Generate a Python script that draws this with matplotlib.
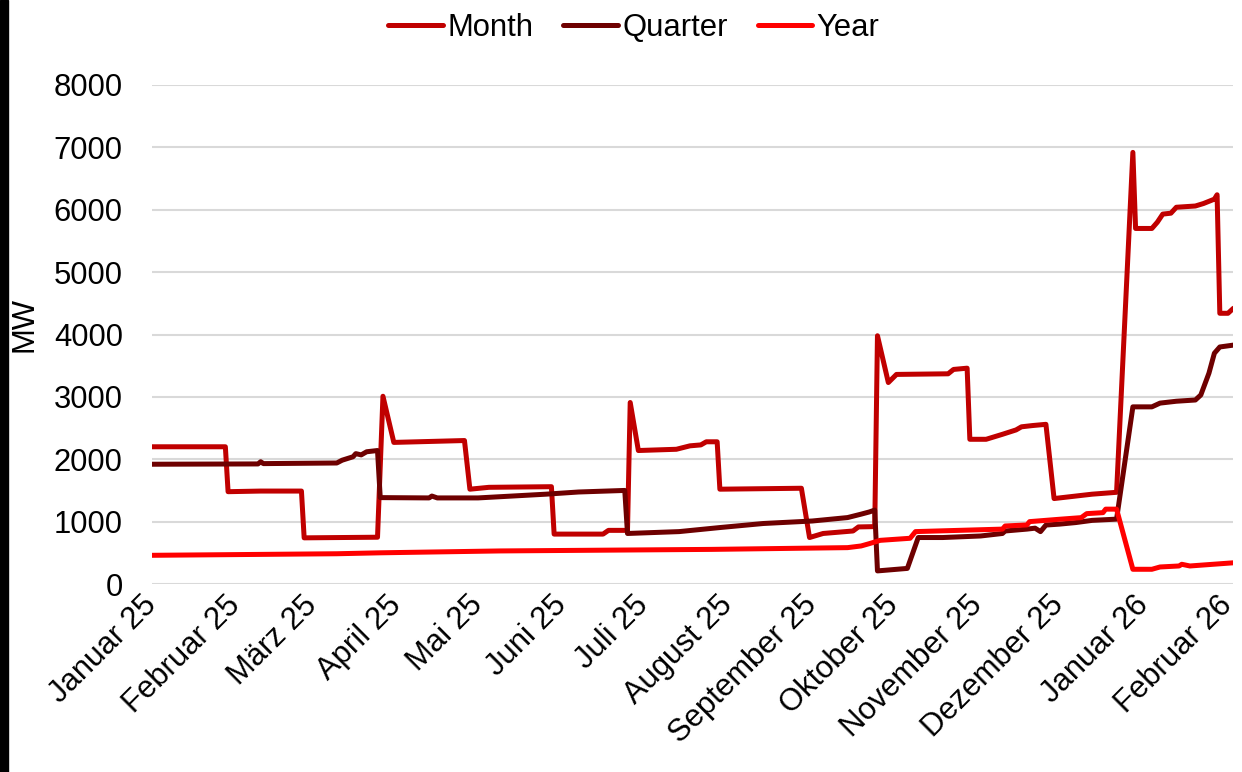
import matplotlib
matplotlib.use("Agg")
import matplotlib.pyplot as plt
from matplotlib.patches import Rectangle
import pandas as pd

plt.rcParams['font.family'] = ['Liberation Sans', 'DejaVu Sans']

# ---------------- data (breakpoints) ----------------
month_dates = ["2025-01-01", "2025-01-28", "2025-01-29", "2025-02-10", "2025-02-25", "2025-02-26",
               "2025-03-25", "2025-03-27", "2025-03-31", "2025-04-26", "2025-04-28", "2025-05-05",
               "2025-05-28", "2025-05-29", "2025-06-16", "2025-06-18", "2025-06-25", "2025-06-26",
               "2025-06-29", "2025-07-13", "2025-07-18", "2025-07-22", "2025-07-24", "2025-07-28",
               "2025-07-29", "2025-08-28", "2025-08-31", "2025-09-05", "2025-09-16", "2025-09-18",
               "2025-09-24", "2025-09-25", "2025-09-29", "2025-10-02", "2025-10-21", "2025-10-23",
               "2025-10-28", "2025-10-29", "2025-11-04", "2025-11-10", "2025-11-15", "2025-11-17",
               "2025-11-21", "2025-11-26", "2025-11-29", "2025-12-13", "2025-12-22", "2025-12-28",
               "2025-12-29", "2026-01-04", "2026-01-06", "2026-01-08", "2026-01-11", "2026-01-13",
               "2026-01-20", "2026-01-23", "2026-01-27", "2026-01-28", "2026-01-29", "2026-02-01",
               "2026-02-03"]
month_vals = [2200, 2200, 1480, 1490, 1490, 740,
              750, 3010, 2270, 2300, 1520, 1550,
              1560, 800, 800, 860, 860, 2910,
              2140, 2160, 2215, 2230, 2280, 2280,
              1520, 1535, 745, 810, 850, 915,
              920, 3980, 3230, 3360, 3370, 3440,
              3460, 2320, 2320, 2400, 2470, 2520,
              2540, 2560, 1370, 1440, 1470, 6920,
              5700, 5700, 5800, 5930, 5945, 6040,
              6060, 6100, 6170, 6240, 4340, 4340,
              4420]

quarter_dates = ["2025-01-01", "2025-02-09", "2025-02-10", "2025-02-11", "2025-03-10", "2025-03-12",
                 "2025-03-16", "2025-03-17", "2025-03-19", "2025-03-21", "2025-03-25", "2025-03-26",
                 "2025-04-13", "2025-04-14", "2025-04-16", "2025-05-01", "2025-05-26", "2025-06-07",
                 "2025-06-24", "2025-06-25", "2025-07-14", "2025-07-29", "2025-08-14", "2025-09-01",
                 "2025-09-14", "2025-09-19", "2025-09-22", "2025-09-24", "2025-09-25", "2025-10-06",
                 "2025-10-10", "2025-10-19", "2025-11-02", "2025-11-10", "2025-11-11", "2025-11-19",
                 "2025-11-22", "2025-11-24", "2025-11-26", "2025-12-01", "2025-12-07", "2025-12-13",
                 "2025-12-22", "2025-12-28", "2026-01-04", "2026-01-07", "2026-01-13", "2026-01-20",
                 "2026-01-22", "2026-01-25", "2026-01-27", "2026-01-29", "2026-02-03"]
quarter_vals = [1920, 1925, 1960, 1930, 1940, 1985,
                2040, 2090, 2070, 2120, 2140, 1385,
                1380, 1410, 1380, 1380, 1440, 1475,
                1500, 810, 840, 905, 970, 1010,
                1065, 1120, 1155, 1185, 210, 250,
                745, 745, 770, 810, 850, 880,
                895, 840, 945, 960, 985, 1020,
                1040, 2840, 2840, 2900, 2930, 2950,
                3030, 3380, 3700, 3800, 3830]

year_dates = ["2025-01-01", "2025-03-10", "2025-03-26", "2025-05-09", "2025-07-26", "2025-09-14",
              "2025-09-19", "2025-09-22", "2025-09-26", "2025-10-07", "2025-10-09", "2025-11-10",
              "2025-11-11", "2025-11-19", "2025-11-20", "2025-12-01", "2025-12-09", "2025-12-11",
              "2025-12-17", "2025-12-18", "2025-12-22", "2025-12-28", "2026-01-04", "2026-01-07",
              "2026-01-14", "2026-01-15", "2026-01-18", "2026-02-03"]
year_vals = [460, 485, 500, 530, 555, 583,
             610, 647, 700, 733, 840, 880,
             930, 947, 1000, 1038, 1064, 1128,
             1144, 1200, 1200, 236, 236, 273,
             289, 316, 289, 340]

series_names = ["Month", "Quarter", "Year"]
series_colors = ["#C00000", "#6E0000", "#FF0000"]

tick_months = pd.date_range("2025-01-01", "2026-02-01", freq="MS")
tick_labels = ["Januar 25", "Februar 25", "März 25", "April 25", "Mai 25", "Juni 25",
               "Juli 25", "August 25", "September 25", "Oktober 25", "November 25",
               "Dezember 25", "Januar 26", "Februar 26"]
y_ticks = [0, 1000, 2000, 3000, 4000, 5000, 6000, 7000, 8000]

# ---------------- figure ----------------
W, H = 1242, 772
fig = plt.figure(figsize=(W / 100, H / 100), dpi=100)
ax = fig.add_axes([152 / W, (H - 584) / H, (1233.4 - 152) / W, (584 - 85) / H])

fs = 22.3
for d, v, name, col in zip([month_dates, quarter_dates, year_dates],
                           [month_vals, quarter_vals, year_vals],
                           series_names, series_colors):
    ax.plot(pd.to_datetime(d), v, color=col, lw=3.6, label=name,
            solid_capstyle="round", solid_joinstyle="round")

ax.set_xlim(pd.Timestamp("2025-01-01"), pd.Timestamp("2026-02-03"))
ax.set_ylim(0, 8000)
ax.set_yticks(y_ticks)
ax.set_yticklabels([str(t) for t in y_ticks], fontsize=fs)
ax.set_xticks(tick_months)
ax.set_xticklabels(tick_labels, fontsize=fs, rotation=45, ha="right", va="center",
                   rotation_mode="anchor")
ax.tick_params(axis="x", length=0, pad=12)
ax.tick_params(axis="y", length=0, pad=21)
ax.grid(axis="y", color="#D9D9D9", lw=1.5)
ax.set_axisbelow(True)
for s in ax.spines.values():
    s.set_visible(False)
ax.set_ylabel("MW", fontsize=fs)
ax.yaxis.set_label_coords(-0.1036, 0.52)

fig.legend(loc="center", bbox_to_anchor=(634 / W, 1 - 28 / H), ncol=3, frameon=False,
           fontsize=fs, handlelength=1.75, handletextpad=0.15, columnspacing=0.97)

fig.add_artist(Rectangle((0, 0), 8 / W, 1, transform=fig.transFigure, color="black"))

fig.savefig("out.png", dpi=100)
